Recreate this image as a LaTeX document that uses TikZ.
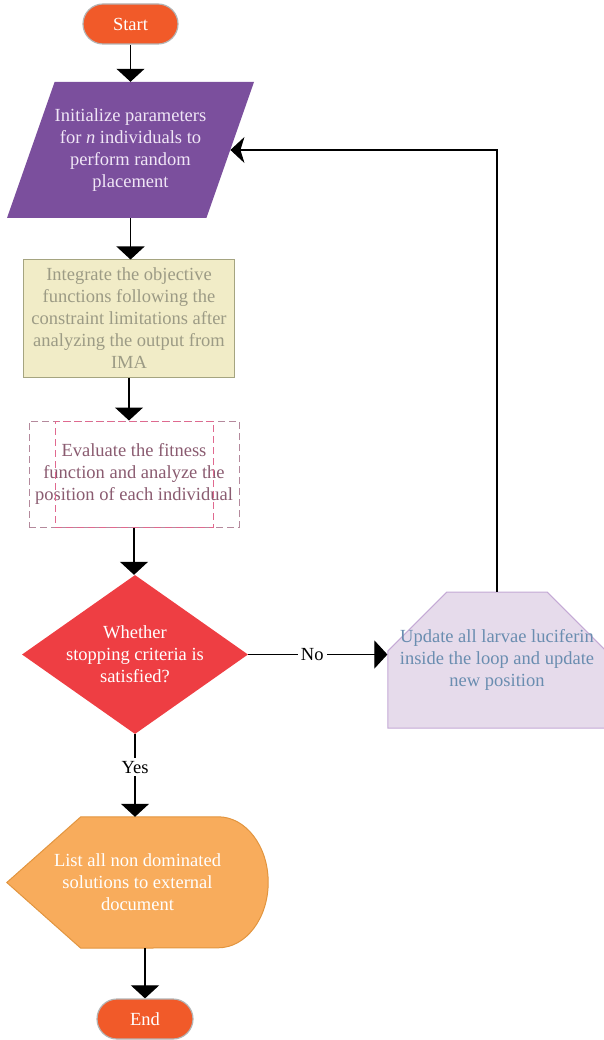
\documentclass[tikz,border=0pt]{standalone}
\usepackage{fontspec}
\setmainfont{Liberation Serif}
\usetikzlibrary{shapes.geometric,shapes.misc,arrows.meta,backgrounds}
\definecolor{pillred}{HTML}{F15A29}
\definecolor{pillgray}{HTML}{B4B4B4}
\definecolor{paraviolet}{HTML}{7B4F9D}
\definecolor{paratext}{HTML}{F0E6F6}
\definecolor{sandfill}{HTML}{F1ECC7}
\definecolor{sanddraw}{HTML}{A5A480}
\definecolor{sandtext}{HTML}{9C9B85}
\definecolor{evalgray}{HTML}{B4899C}
\definecolor{evalpink}{HTML}{E0698F}
\definecolor{evaltext}{HTML}{8A5B70}
\definecolor{decred}{HTML}{EE3E43}
\definecolor{lilacfill}{HTML}{E6DBEB}
\definecolor{lilacdraw}{HTML}{C4A9D5}
\definecolor{lilactext}{HTML}{6A8DB0}
\definecolor{listfill}{HTML}{F8AC5C}
\definecolor{listdraw}{HTML}{E2953F}

\begin{document}
\begin{tikzpicture}[x=1pt,y=-1pt,
		every node/.style={font=\fontsize{18.5}{22}\selectfont,align=center,inner sep=0pt},
		terminal/.style={draw=pillgray,line width=1.2pt,fill=pillred,text=white,
			rounded corners=20pt,minimum width=95pt,minimum height=40pt},
		inputbox/.style={trapezium,trapezium left angle=70,trapezium right angle=110,
			trapezium stretches body=true,inner ysep=24pt,fill=paraviolet,text=paratext,
			minimum width=247pt,minimum height=136pt},
		procbox/.style={rectangle,draw=sanddraw,line width=1pt,fill=sandfill,text=sandtext,
			minimum width=211pt,minimum height=117pt},
		evalbox/.style={rectangle,draw=#1,line width=1pt,dash pattern=on 7pt off 4pt,
			text=evaltext,minimum height=106pt},
		decbox/.style={diamond,shape aspect=1.42,fill=decred,text=white,
			minimum width=226pt,minimum height=159pt},
		updbox/.style={chamfered rectangle,chamfered rectangle corners={north west,north east},
			chamfered rectangle xsep=26pt,chamfered rectangle ysep=33pt,inner xsep=-14pt,
			draw=lilacdraw,line width=1pt,fill=lilacfill,text=lilactext,
			minimum width=218pt,minimum height=136pt},
		listbox/.style={rectangle,text=white,minimum width=261pt,minimum height=131pt},
		arr/.style={line width=1.1pt,-{Triangle[width=28pt,length=13pt]}},
		loopback/.style={line width=1.1pt,-{Stealth[width=26pt,length=14pt,inset=4pt]}},
		lbl/.style={fill=white,inner sep=3pt}
		]
	\useasboundingbox (0,0) rectangle (603,1040);
	%%%%%%%%%%%%%%%
	\node[terminal] (start) at (130.5,24) {Start};
	\node[inputbox] (init) at (130.5,150) {Initialize parameters\\for \textit{n} individuals to\\perform random\\placement};
	\node[procbox] (integ) at (129,318.5) {Integrate the objective\\functions following the\\constraint limitations after\\analyzing the output from\\IMA};
	%%%%%%%%%%%%%%%
	\node[evalbox=evalgray,minimum width=210pt] (eval) at (134,474) {\raisebox{3pt}{\parbox{210pt}{\centering Evaluate the fitness\\function and analyze the\\position of each individual}}};
	\node[evalbox=evalpink,minimum width=158pt] (evalin) at (134,474) {};
	%%%%%%%%%%%%%%%
	\node[decbox] (dec) at (135,654.5) {Whether\\stopping criteria is\\satisfied?};
	\node[updbox] (upd) at (497,660) {Update all larvae luciferin\\inside the loop and update\\new position};
	\node[listbox] (list) at (137.5,882.5) {List all non dominated\\solutions to external\\document};
	\begin{scope}[on background layer]
		\filldraw[fill=listfill,draw=listdraw,line width=1pt] (list.west) -- ([xshift=74pt]list.north west)
			-- ([xshift=-50pt]list.north east) arc[start angle=90,end angle=-90,x radius=50pt,y radius=65.5pt]
			-- ([xshift=74pt]list.south west) -- cycle;
	\end{scope}
	\node[terminal,minimum width=96pt] (fin) at (145,1019) {End};
	%%%%%%%%%%%%%%%
	\draw[arr] (start) -- (init);
	\draw[arr] (init.south) -- (init.south |- integ.north);
	\draw[arr] (integ.south) -- (integ.south |- eval.north);
	\draw[arr] (eval.south) -- (eval.south |- dec.north);
	\draw[arr] (dec.east) -- node[lbl,pos=0.46] {No} (dec.east -| upd.west);
	\draw[arr] (dec.south) -- node[lbl,pos=0.4] {Yes} (dec.south |- list.north);
	\draw[arr] (fin.north |- list.south) -- (fin);
	\draw[loopback] (upd.north) |- (init.east);
\end{tikzpicture}
\end{document}
